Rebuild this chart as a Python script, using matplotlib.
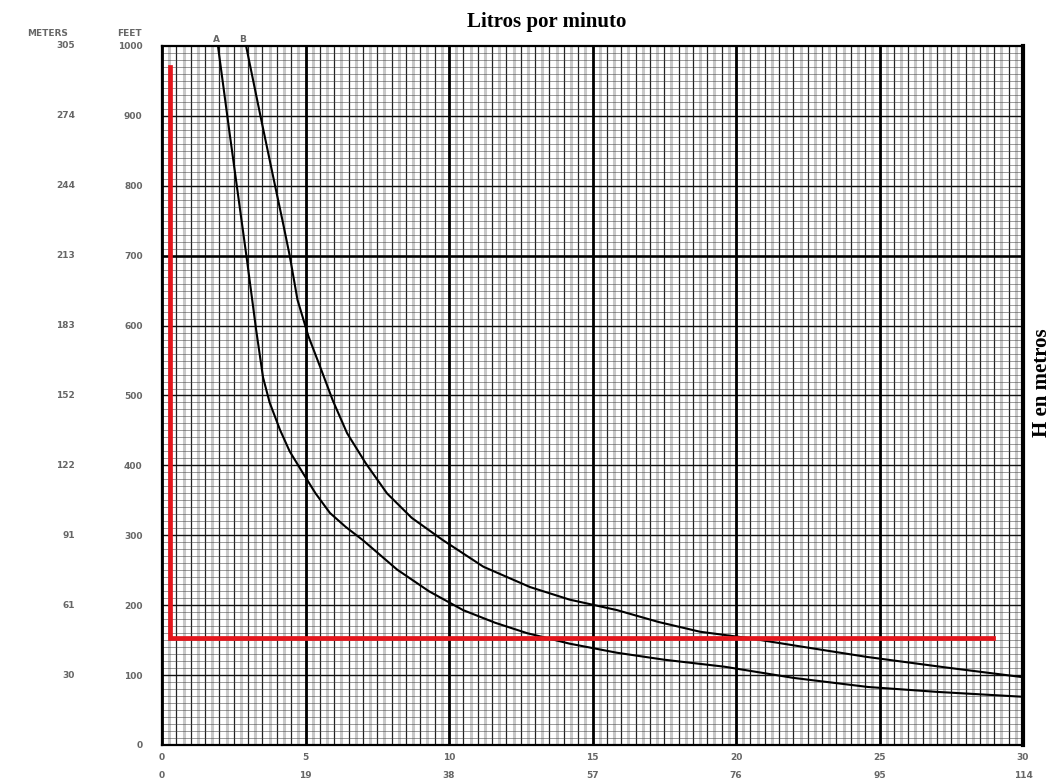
import numpy as np
import matplotlib
matplotlib.use("Agg")
import matplotlib.pyplot as plt

# curves (galones por minuto vs. pies)
gpm_a = [1.95, 2.34, 2.96, 3.28, 3.52, 3.75, 4.11, 4.45, 4.91, 5.35, 5.85, 6.4, 7.0, 8.19,
         9.3, 10.49, 11.6, 12.72, 14.2, 15.85, 17.5, 19.6, 22.0, 24.6, 27.0, 30.0]
ft_a = [1000, 880, 694, 594, 526, 490, 451, 420, 389, 360, 332, 312, 293, 251,
        220, 193, 175, 160, 145, 132, 122, 112, 96, 83, 76, 69]

gpm_b = [2.93, 3.44, 3.94, 4.2, 4.45, 4.72, 5.1, 5.51, 5.95, 6.45, 7.1, 7.84, 8.7, 9.79,
         11.2, 12.82, 14.2, 15.85, 17.3, 18.75, 20.42, 22.4, 24.56, 27.3, 30.0]
ft_b = [1000, 898, 800, 750, 700, 637, 585, 541, 493, 446, 403, 360, 325, 293,
        255, 226, 208, 193, 176, 162, 153, 140, 126, 111, 97]

# red marker lines
red_x = [0.28, 0.28, 28.95]
red_y = [970, 153, 153]

feet_ticks = [0, 100, 200, 300, 400, 500, 600, 700, 800, 900, 1000]
meter_labels = ["", "30", "61", "91", "122", "152", "183", "213", "244", "274", "305"]
gpm_ticks = [0, 5, 10, 15, 20, 25, 30]
lpm_labels = ["0", "19", "38", "57", "76", "95", "114"]

fig = plt.figure(figsize=(10.56, 7.8), dpi=100)
ax = fig.add_axes([162 / 1056, 1 - 745 / 780, (1023 - 162) / 1056, (745 - 46) / 780])
ax.set_xlim(0, 30)
ax.set_ylim(0, 1000)

# graph paper
for x in np.arange(0.25, 30, 0.5):
    ax.axvline(x, color="#c8c8c8", lw=2.2, zorder=0)
for x in np.arange(0.5, 30, 0.5):
    ax.axvline(x, color="#222222", lw=0.9, zorder=1)
for y in np.arange(10, 1000, 10):
    ax.axhline(y, color="#444444", lw=0.5, alpha=0.75, zorder=1)
for y in np.arange(100, 1000, 100):
    ax.axhline(y, color="#111111", lw=1.0, zorder=1)
ax.axhline(700, color="black", lw=1.8, zorder=1)
for x in gpm_ticks:
    ax.axvline(x, color="black", lw=2.0, zorder=1)

for s in ax.spines.values():
    s.set_linewidth(1.6)
ax.spines["right"].set_linewidth(3)

ax.plot(gpm_a, ft_a, color="black", lw=1.5, zorder=3)
ax.plot(gpm_b, ft_b, color="black", lw=1.5, zorder=3)
ax.plot(red_x, red_y, color="#e4161c", lw=3.4, solid_joinstyle="miter", zorder=4)

lab = dict(fontsize=6.5, color="#666666", fontweight="bold")
ax.text(1.88, 1003, "A", ha="center", va="bottom", **lab)
ax.text(2.82, 1003, "B", ha="center", va="bottom", **lab)

# left scales: feet and meters
ax.set_yticks(feet_ticks)
ax.set_yticklabels([str(v) for v in feet_ticks], **lab)
ax.tick_params(axis="y", length=0, pad=14)
for f, m in zip(feet_ticks, meter_labels):
    ax.text(-0.101, f, m, transform=ax.get_yaxis_transform(),
            ha="right", va="center", **lab)
fig.text(48 / 1056, 1 - 33 / 780, "METERS", ha="center", va="center", **lab)
fig.text(129 / 1056, 1 - 33 / 780, "FEET", ha="center", va="center", **lab)

# bottom scales: gpm and litros
ax.set_xticks(gpm_ticks)
ax.set_xticklabels([str(v) for v in gpm_ticks], **lab)
ax.tick_params(axis="x", length=0, pad=6)
for g, l in zip(gpm_ticks, lpm_labels):
    ax.text(g, -0.043, l, transform=ax.get_xaxis_transform(),
            ha="center", va="center", **lab)

fig.text(547 / 1056, 1 - 22 / 780, "Litros por minuto", ha="center", va="center",
         fontsize=15, fontweight="bold", family="Liberation Serif")
fig.text(1042 / 1056, 1 - 383 / 780, "H en metros", ha="center", va="center",
         rotation=90, fontsize=15, fontweight="bold", family="Liberation Serif")

fig.savefig("out.png", dpi=100)
